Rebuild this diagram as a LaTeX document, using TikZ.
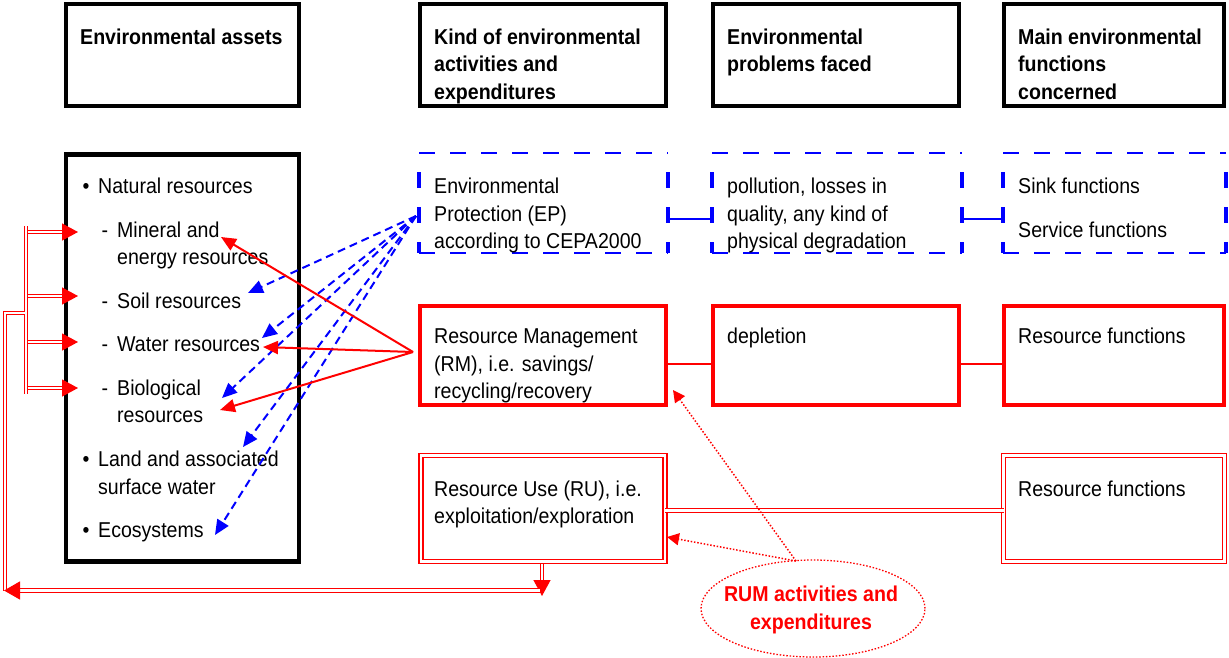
\documentclass[tikz,border=0pt]{standalone}
\usepackage{fontspec}
\setmainfont{Liberation Sans}[FakeStretch=0.91]
\usetikzlibrary{arrows.meta,shapes.geometric,calc}
\definecolor{rd}{RGB}{255,0,0}
\definecolor{bl}{RGB}{0,0,255}
\newcommand\bodyfont{\fontsize{21.5}{27.5}\selectfont}
\begin{document}
\begin{tikzpicture}[x=1pt,y=-1pt,
  boxbase/.style={rectangle, inner sep=0pt, outer sep=0pt},
  blkbox/.style={boxbase, draw=black, line width=4.5pt},
  redbox/.style={boxbase, draw=rd, line width=4pt},
  dblbox/.style={boxbase, draw=rd, double=white, line width=1.6pt, double distance=2.4pt},
  bluebox/.style={boxbase},
  txt/.style={anchor=base west, inner sep=0pt, font=\bodyfont},
  htxt/.style={anchor=base west, inner sep=0pt, font=\bodyfont\bfseries},
  symb/.style={anchor=base, inner sep=0pt, font=\bodyfont},
  bthin/.style={draw=bl, line width=2pt, dash pattern=on 16pt off 15pt},
  bthick/.style={draw=bl, line width=4.5pt, dash pattern=on 16pt off 19pt, dash phase=16pt},
  bluearr/.style={draw=bl, line width=2pt, dash pattern=on 8pt off 5pt, -{Triangle[length=15pt,width=13pt]}},
  redarr/.style={draw=rd, line width=2pt, -{Triangle[length=15pt,width=13pt]}},
  dotarr/.style={draw=rd, line width=1.5pt, dash pattern=on 1.5pt off 1.8pt, -{Triangle[length=12pt,width=12pt]}},
  dblline/.style={draw=rd, double=white, line width=1.3pt, double distance=2.2pt},
  dbltip/.style={-{Triangle[length=16pt,width=17pt]}}
]
\useasboundingbox (0,0) rectangle (1229,657);

% header boxes
\node[blkbox, minimum width=233pt, minimum height=102pt] (hA) at (182.5,55) {};
\node[blkbox, minimum width=246pt, minimum height=102pt] (hB) at (543,55) {};
\node[blkbox, minimum width=246pt, minimum height=102pt] (hC) at (836,55) {};
\node[blkbox, minimum width=220pt, minimum height=102pt] (hD) at (1114,55) {};
\node[htxt] (hA1) at (80,44) {Environmental assets};
\node[htxt] (hB1) at (434,44) {Kind of environmental};
\node[htxt] (hB2) at (434,71.5) {activities and};
\node[htxt] (hB3) at (434,99) {expenditures};
\node[htxt] (hC1) at (727,44) {Environmental};
\node[htxt] (hC2) at (727,71.5) {problems faced};
\node[htxt] (hD1) at (1018,44) {Main environmental};
\node[htxt] (hD2) at (1018,71.5) {functions};
\node[htxt] (hD3) at (1018,99) {concerned};

% assets box
\node[blkbox, minimum width=233pt, minimum height=407pt] (assets) at (182.5,358) {};
\node[symb] (b1) at (86,193) {•};
\node[txt] (nat) at (98,193) {Natural resources};
\node[symb] (d1) at (105,237) {-};
\node[txt] (min1) at (117,237) {Mineral and};
\node[txt] (min2) at (117,264.5) {energy resources};
\node[symb] (d2) at (105,308) {-};
\node[txt] (soil) at (117,308) {Soil resources};
\node[symb] (d3) at (105,351) {-};
\node[txt] (water) at (117,351) {Water resources};
\node[symb] (d4) at (105,395) {-};
\node[txt] (bio1) at (117,395) {Biological};
\node[txt] (bio2) at (117,422) {resources};
\node[symb] (b2) at (86,466) {•};
\node[txt] (land1) at (98,466) {Land and associated};
\node[txt] (land2) at (98,494) {surface water};
\node[symb] (b3) at (86,537) {•};
\node[txt] (eco) at (98,537) {Ecosystems};

% blue EP row
\node[bluebox, minimum width=249pt, minimum height=100pt] (ep) at (543.5,203) {};
\node[bluebox, minimum width=250pt, minimum height=100pt] (poll) at (837,203) {};
\node[bluebox, minimum width=223pt, minimum height=100pt] (sink) at (1114.5,203) {};
\foreach \n in {ep,poll,sink}{
  \draw[bthin] (\n.north west) -- (\n.north east);
  \draw[bthin] (\n.south west) -- (\n.south east);
  \draw[bthick] (\n.north west) -- (\n.south west);
  \draw[bthick] (\n.north east) -- (\n.south east);
}
\node[txt] (ep1) at (434,193) {Environmental};
\node[txt] (ep2) at (434,221) {Protection (EP)};
\node[txt] (ep3) at (434,248) {according to CEPA2000};
\node[txt] (po1) at (727,193) {pollution, losses in};
\node[txt] (po2) at (727,221) {quality, any kind of};
\node[txt] (po3) at (727,248) {physical degradation};
\node[txt] (si1) at (1018,193) {Sink functions};
\node[txt] (si2) at (1018,237) {Service functions};
\draw[bl, line width=2pt] ($(ep.east)+(0,16)$) -- ($(poll.west)+(0,16)$);
\draw[bl, line width=2pt] ($(poll.east)+(0,16)$) -- ($(sink.west)+(0,16)$);

% red RM row
\node[redbox, minimum width=246pt, minimum height=99pt] (rm) at (543,355.5) {};
\node[redbox, minimum width=246pt, minimum height=99pt] (dep) at (836,355.5) {};
\node[redbox, minimum width=220pt, minimum height=99pt] (rfa) at (1114,355.5) {};
\node[txt] (rm1) at (434,343) {Resource Management};
\node[txt] (rm2) at (434,371) {(RM), i.e. savings/};
\node[txt] (rm3) at (434,398) {recycling/recovery};
\node[txt] (dep1) at (727,343) {depletion};
\node[txt] (rfa1) at (1018,343) {Resource functions};
\draw[rd, line width=2pt] ($(rm.east)+(0,8.5)$) -- ($(dep.west)+(0,8.5)$);
\draw[rd, line width=2pt] ($(dep.east)+(0,8.5)$) -- ($(rfa.west)+(0,8.5)$);

% RU row
\node[dblbox, minimum width=244pt, minimum height=106pt] (ru) at (543,508.5) {};
\node[dblbox, minimum width=221pt, minimum height=106pt] (rfb) at (1114,508.5) {};
\node[txt] (ru1) at (434,496) {Resource Use (RU), i.e.};
\node[txt] (ru2) at (434,523) {exploitation/exploration};
\node[txt] (rfb1) at (1018,496) {Resource functions};
\draw[dblline] ($(ru.east)+(0,2)$) -- ($(rfb.west)+(0,2)$);

% ellipse
\node[ellipse, draw=rd, line width=1.3pt, dash pattern=on 1.5pt off 1.8pt, minimum width=224pt, minimum height=97pt, inner sep=0pt] (rum) at (813,608.5) {};
\node[anchor=base, inner sep=0pt, font=\bodyfont\bfseries, text=rd] (rumt1) at (811,601) {RUM activities and};
\node[anchor=base, inner sep=0pt, font=\bodyfont\bfseries, text=rd] (rumt2) at (811,629) {expenditures};

% connector points
\coordinate (epsrc) at (416,216);
\coordinate (rmsrc) at (413,352);
\coordinate (rumsrc) at (796,561);
\coordinate (tSoil) at (248,293);
\coordinate (tWater) at (262,338);
\coordinate (tBio) at (222,398);
\coordinate (tLand) at (243,447);
\coordinate (tEco) at (215,535);
\coordinate (rMin) at (221,237);
\coordinate (rWater) at (263,347);
\coordinate (rBio) at (220,410);
\coordinate (tRM) at (673,390);
\coordinate (tRU) at (667,537);

% blue dashed arrows
\foreach \t in {tSoil,tWater,tBio,tLand,tEco}{
  \draw[bluearr] (epsrc) -- (\t);
}
% red arrows
\foreach \t in {rMin,rWater,rBio}{
  \draw[redarr] (rmsrc) -- (\t);
}
% dotted arrows
\draw[dotarr] (rumsrc) -- (tRM);
\draw[dotarr] (rumsrc) -- (tRU);

% left double lines
\coordinate (vtop) at (26,226);
\coordinate (vbot) at (26,394);
\draw[dblline] (vtop) -- (vbot);
\foreach \yy in {232,296,342,388}{
  \draw[dblline, dbltip] (27.5,\yy) -- (78,\yy);
}
\coordinate (stubR) at (24.5,313);
\coordinate (stubL) at (5,313);
\coordinate (corner) at (5,590.5);
\draw[dblline] (stubR) -- (stubL) -- (corner);
\coordinate (ruout) at (542,564);
\coordinate (rutip) at (542,596);
\draw[dblline, dbltip] (ruout) -- (rutip);
\coordinate (hstart) at (540,590.5);
\coordinate (htip) at (4,590.5);
\draw[dblline, -{Triangle[length=16pt,width=18pt]}] (hstart) -- (htip);
\end{tikzpicture}
\end{document}
